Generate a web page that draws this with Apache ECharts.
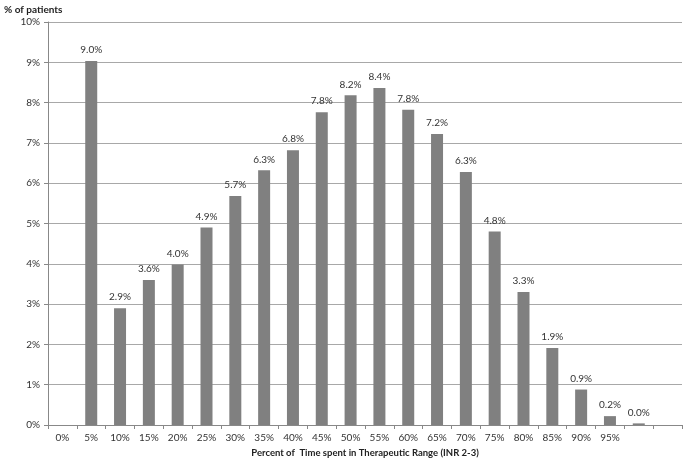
<!DOCTYPE html>
<html>
<head>
<meta charset="utf-8">
<script src="https://cdn.jsdelivr.net/npm/echarts@6/dist/echarts.min.js"></script>
<style>
  html, body { margin: 0; padding: 0; background: #fff; }
  #main { width: 683px; height: 459px; }
</style>
</head>
<body>
<div id="main"></div>
<script>
// bins of time in therapeutic range (last two bins carry no label)
const categories = ["0%", "5%", "10%", "15%", "20%", "25%", "30%", "35%", "40%", "45%",
  "50%", "55%", "60%", "65%", "70%", "75%", "80%", "85%", "90%", "95%", "", ""];
// % of patients per bin
const patients = [null, 9.03, 2.9, 3.6, 3.98, 4.9, 5.68, 6.32, 6.82, 7.76,
  8.18, 8.36, 7.82, 7.22, 6.28, 4.8, 3.3, 1.91, 0.88, 0.22, 0.04, null];
const yTicks = { min: 0, max: 10, interval: 1 };

const font = "Lato, 'Open Sans', sans-serif";
const chart = echarts.init(document.getElementById("main"));
chart.setOption({
  animation: false,
  title: {
    text: "% of patients",
    left: -1,
    top: 0,
    textStyle: { fontFamily: font, fontSize: 10, fontWeight: "bold", color: "#222" }
  },
  grid: { left: 48, right: 1, top: 22, bottom: 34, containLabel: false, outerBoundsMode: "none" },
  xAxis: {
    type: "category",
    data: categories,
    boundaryGap: true,
    name: "Percent of  Time spent in Therapeutic Range (INR 2-3)",
    nameLocation: "middle",
    nameGap: 22,
    nameTextStyle: { fontFamily: font, fontSize: 9.5, fontWeight: "bold", color: "#222" },
    axisLine: { lineStyle: { color: "#888", width: 1 } },
    axisTick: { show: true, length: 4, lineStyle: { color: "#888" } },
    axisLabel: { fontFamily: font, fontSize: 10, color: "#333", margin: 8, interval: 0 },
    splitLine: { show: false }
  },
  yAxis: {
    type: "value",
    min: yTicks.min,
    max: yTicks.max,
    interval: yTicks.interval,
    axisLine: { show: true, lineStyle: { color: "#888", width: 1 } },
    axisTick: { show: true, length: 4, lineStyle: { color: "#888" } },
    axisLabel: { fontFamily: font, fontSize: 10, color: "#333", margin: 8, formatter: "{value}%" },
    splitLine: { lineStyle: { color: "#a8a8a8", width: 1 } }
  },
  series: [{
    type: "bar",
    data: patients,
    barWidth: 12,
    itemStyle: { color: "#808080" },
    label: {
      show: true,
      position: "top",
      distance: 6,
      fontFamily: font,
      fontSize: 10,
      color: "#333",
      formatter: p => p.value == null ? "" : p.value.toFixed(1) + "%"
    }
  }]
});
</script>
</body>
</html>
